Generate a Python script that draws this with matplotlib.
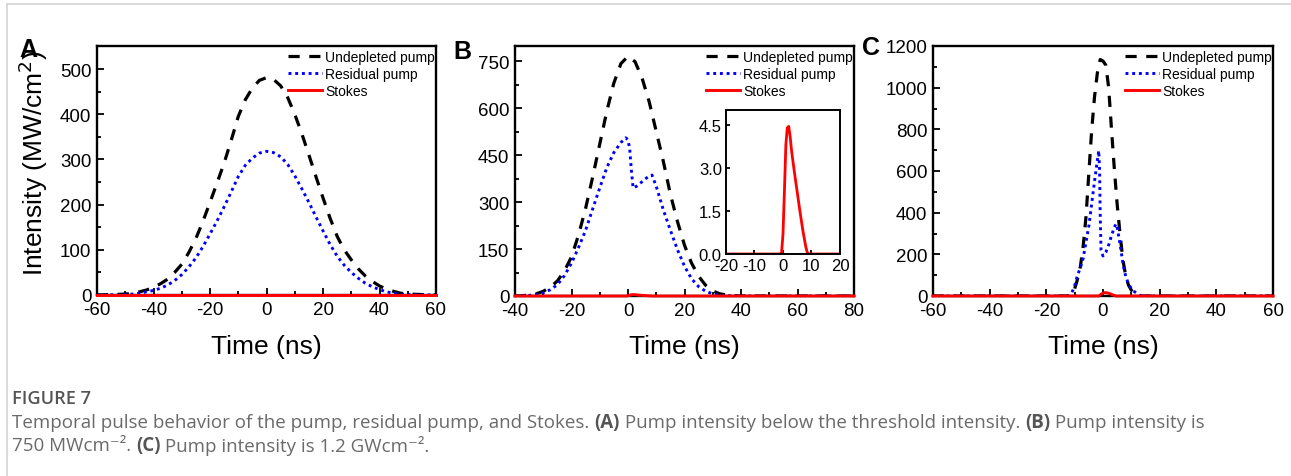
import matplotlib
matplotlib.use('Agg')
import matplotlib.pyplot as plt
from matplotlib.lines import Line2D
from matplotlib.ticker import MultipleLocator, FormatStrFormatter

plt.rcParams['font.family'] = ['Liberation Sans', 'DejaVu Sans']
plt.rcParams['axes.unicode_minus'] = False

# ---------------- data ----------------
# Panel A
t_A = [-60, -50, -47.5, -45, -42.5, -40, -37.5, -35, -32.5, -30, -27.5, -25, -22.5, -20,
       -17.5, -15, -12.5, -10, -7.5, -5, -2.5, 0, 2.5, 5, 7.5, 10, 12.5, 15, 17.5, 20,
       22.5, 25, 27.5, 30, 32.5, 35, 37.5, 40, 42.5, 45, 47.5, 50, 60]
undepleted_A = [0, 2, 4, 7, 11, 17, 25, 35, 50, 68, 94, 125, 163, 205,
                248, 292, 342, 395, 432, 458, 475, 481, 477, 463, 437, 400, 357, 310, 262, 215,
                170, 130, 100, 78, 58, 42, 30, 20, 13, 8, 4, 2, 0]
residual_A = [0, 1, 2, 4, 7, 10, 15, 22, 32, 45, 62, 82, 107, 135,
              164, 195, 228, 262, 287, 303, 314, 318, 315, 306, 289, 264, 235, 205, 173, 142,
              112, 86, 66, 50, 37, 26, 18, 12, 7, 4, 2, 1, 0]
t_A_stokes = [-60, 0, 60]
stokes_A = [0, 0, 0]

# Panel B
t_B = [-40, -37.5, -35, -32.5, -30, -27.5, -25, -22.5, -20, -17.5, -15, -12.5, -10, -7.5,
       -5, -2.5, 0, 2.5, 5, 7.5, 10, 12.5, 15, 17.5, 20, 22.5, 25, 27.5, 30, 32.5, 35,
       37.5, 40, 80]
undepleted_B = [0, 1, 3, 7, 15, 28, 48, 80, 125, 195, 280, 380, 485, 590,
                680, 742, 765, 748, 695, 620, 525, 430, 325, 238, 162, 105, 63, 34, 16, 7, 3,
                1, 0, 0]
t_B_res = [-40, -35, -32.5, -30, -27.5, -25, -22.5, -20, -17.5, -15, -12.5, -10, -7.5, -5,
           -2.5, -0.8, 0, 0.6, 1.2, 1.8, 3, 5, 7, 8.5, 10, 12.5, 15, 17.5, 20, 22.5, 25,
           27.5, 30, 32.5, 35, 40, 80]
residual_B = [0, 2, 5, 10, 20, 36, 65, 105, 155, 210, 278, 345, 410, 458,
              490, 505, 498, 470, 400, 345, 350, 365, 380, 386, 350, 275, 210, 148, 95, 55, 30,
              15, 7, 3, 1, 0, 0]
t_B_stokes = [-40, -1, -0.5, 0, 0.5, 1.0, 1.5, 2.0, 2.5, 3, 4, 5, 6, 7, 8, 8.5, 9, 80]
stokes_B = [0, 0, 0.05, 0.7, 2.2, 3.8, 4.4, 4.45, 4.1, 3.6, 2.85, 2.15, 1.45, 0.8, 0.25, 0.06, 0, 0]

# Panel C
t_C = [-60, -13, -12, -11, -10, -9, -8, -7, -6, -5, -4, -3, -2, -1, 0, 1, 2, 3, 4, 5, 6,
       7, 8, 9, 10, 11, 12, 13, 14, 60]
undepleted_C = [0, 0, 2, 10, 35, 80, 140, 238, 380, 590, 794, 955, 1070, 1135, 1128, 1108,
                1000, 800, 610, 440, 300, 175, 98, 52, 28, 12, 5, 1, 0, 0]
t_C_res = [-60, -12, -11, -10, -9, -8, -7, -6, -5, -4, -3, -2, -1.5, -1.2, -1.0, -0.7, 0,
           1, 2, 3, 4, 4.6, 5, 6, 7, 8, 9, 10, 11, 12, 13, 14, 60]
residual_C = [0, 0, 15, 50, 100, 135, 180, 260, 335, 442, 550, 650, 698, 600, 400, 220, 192,
              210, 245, 290, 330, 346, 330, 250, 160, 95, 58, 35, 22, 12, 4, 0, 0]
t_C_stokes = [-60, -1.5, -0.5, 0.5, 1.5, 2.5, 3.5, 4.5, 60]
stokes_C = [0, 0, 10, 16, 15, 11, 5, 0, 0]

series_labels = ['Undepleted pump', 'Residual pump', 'Stokes']
x_label = 'Time (ns)'
y_label = 'Intensity (MW/cm$^2$)'
panel_letters = ['A', 'B', 'C']

# ---------------- figure ----------------
W, H = 1291, 477
fig = plt.figure(figsize=(W / 100, H / 100), dpi=100)


def px_rect(l, t, r, b):
    return [l / W, 1 - b / H, (r - l) / W, (b - t) / H]


def style(ax, xmaj, xmin, ymaj, ymin, size=13.5, lw=1.7):
    for s in ax.spines.values():
        s.set_linewidth(lw)
    ax.xaxis.set_major_locator(MultipleLocator(xmaj))
    ax.xaxis.set_minor_locator(MultipleLocator(xmin))
    ax.yaxis.set_major_locator(MultipleLocator(ymaj))
    ax.yaxis.set_minor_locator(MultipleLocator(ymin))
    ax.tick_params(which='both', direction='in', top=False, right=False,
                   width=1.3, labelsize=size, pad=4)
    ax.tick_params(which='major', length=5)
    ax.tick_params(which='minor', length=3)


DASH = (0, (3.5, 3))
DOT = (0, (1, 1.3))


def draw(ax, tu, u, tr, r, ts, s):
    ax.plot(tu, u, color='black', lw=2.3, linestyle=DASH, label=series_labels[0])
    ax.plot(tr, r, color='#0000ff', lw=2.1, linestyle=DOT, label=series_labels[1])
    ax.plot(ts, s, color='#ff0000', lw=2.1, label=series_labels[2], clip_on=False, zorder=3)
    ax.legend(loc='upper right', bbox_to_anchor=(1.005, 0.995), frameon=False, fontsize=10,
              handlelength=2.4, handletextpad=0.25, labelspacing=0.22, borderpad=0.2,
              borderaxespad=0.0)


axA = fig.add_axes(px_rect(97, 47, 436, 296))
draw(axA, t_A, undepleted_A, t_A, residual_A, t_A_stokes, stokes_A)
axA.set_xlim(-60, 60)
axA.set_ylim(0, 551)
style(axA, 20, 10, 100, 50)

axB = fig.add_axes(px_rect(515, 47, 854, 297))
draw(axB, t_B, undepleted_B, t_B_res, residual_B, t_B_stokes, stokes_B)
axB.set_xlim(-40, 80)
axB.set_ylim(0, 798)
style(axB, 20, 10, 150, 75)

axC = fig.add_axes(px_rect(933, 47, 1273, 297))
draw(axC, t_C, undepleted_C, t_C_res, residual_C, t_C_stokes, stokes_C)
axC.set_xlim(-60, 60)
axC.set_ylim(0, 1200)
style(axC, 20, 10, 200, 100)

# inset of panel B
axI = fig.add_axes(px_rect(726, 111, 840, 255))
axI.plot(t_B_stokes, stokes_B, color='#ff0000', lw=2.0)
axI.set_xlim(-20, 20)
axI.set_ylim(0, 5.02)
style(axI, 10, 5, 1.5, 0.75, size=12, lw=1.4)
axI.tick_params(which='minor', length=0)
axI.tick_params(which='major', length=3, pad=3)
axI.yaxis.set_major_formatter(FormatStrFormatter('%.1f'))

# axis labels
for ax in (axA, axB, axC):
    bb = ax.get_position()
    fig.text((bb.x0 + bb.x1) / 2, 1 - 347 / H, x_label, fontsize=19, ha='center', va='center')
fig.text(33 / W, 1 - 163 / H, y_label, fontsize=19, rotation=90, ha='center', va='center')

# panel letters
for letter, (px, py) in zip(panel_letters, [(28, 50), (462, 52), (871, 48)]):
    fig.text(px / W, 1 - py / H, letter, fontsize=18, fontweight='bold', ha='center', va='center')

# frame lines of the page
fig.add_artist(Line2D([7 / W, 7 / W], [0, 1 - 5 / H], transform=fig.transFigure,
                      color='#d4d4d4', lw=1.2))
fig.add_artist(Line2D([7 / W, 1], [1 - 5 / H, 1 - 5 / H], transform=fig.transFigure,
                      color='#d4d4d4', lw=1.2))

# ---------------- caption ----------------
renderer = fig.canvas.get_renderer()
CAP_FAMILY = ['Open Sans', 'DejaVu Sans']
NORMAL_COL = '#6a6a6a'
BOLD_COL = '#555555'

line1 = [("Temporal pulse behavior of the pump, residual pump, and Stokes. ", 'normal'),
         ("(A)", 'bold'),
         (" Pump intensity below the threshold intensity. ", 'normal'),
         ("(B)", 'bold'),
         (" Pump intensity is", 'normal')]
line2 = [("750 MWcm\u207b\u00b2. ", 'normal'),
         ("(C)", 'bold'),
         (" Pump intensity is 1.2 GWcm\u207b\u00b2.", 'normal')]


def run_width(s, weight, size):
    t1 = fig.text(0, 0, "|" + s + "|", fontsize=size, fontweight=weight, family=CAP_FAMILY)
    t2 = fig.text(0, 0, "||", fontsize=size, fontweight=weight, family=CAP_FAMILY)
    w = t1.get_window_extent(renderer).width - t2.get_window_extent(renderer).width
    t1.remove()
    t2.remove()
    return w


def line_width(runs, size):
    return sum(run_width(s, w, size) for s, w in runs)


trial = 10.0
cap_size = trial * (1205 - 12) / line_width(line1, trial)


def draw_runs(runs, x0, y, size):
    x = x0
    for s, w in runs:
        fig.text(x / W, 1 - y / H, s, fontsize=size, fontweight=w,
                 color=BOLD_COL if w == 'bold' else NORMAL_COL,
                 family=CAP_FAMILY, ha='left', va='center')
        x += run_width(s, w, size)


draw_runs(line1, 12, 423, cap_size)
draw_runs(line2, 12, 446, cap_size)
fig.text(12 / W, 1 - 399 / H, "FIGURE 7", fontsize=cap_size * 0.97, fontweight='semibold',
         color=BOLD_COL, family=CAP_FAMILY, ha='left', va='center')

fig.savefig('out.png', dpi=100)
